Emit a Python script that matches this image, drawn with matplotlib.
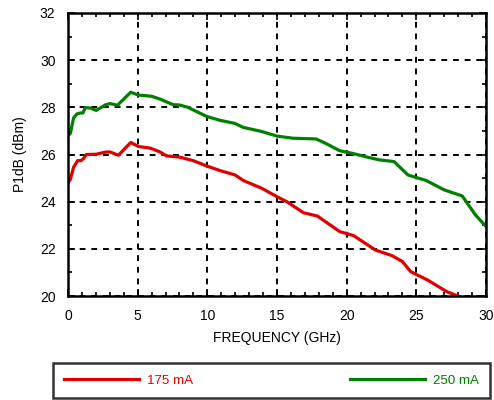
import matplotlib
matplotlib.use("Agg")
import matplotlib.pyplot as plt
from matplotlib.ticker import MultipleLocator

plt.rcParams['font.family'] = ['Liberation Sans', 'DejaVu Sans']

# P1dB vs frequency
freq_175 = [0.0, 0.17, 0.4, 0.69, 0.93, 1.12, 1.31, 2.02, 2.67, 3.0, 3.62, 4.5, 5.05,
            5.9, 6.6, 7.07, 8.0, 8.98, 9.93, 10.9, 12.0, 12.6, 13.9, 15.0, 15.7,
            16.9, 17.9, 19.5, 20.5, 22.06, 23.26, 24.0, 24.6, 25.8, 27.2, 27.8, 28.4]
p1db_175 = [24.8, 24.95, 25.46, 25.74, 25.74, 25.83, 26.0, 26.01, 26.1, 26.11, 25.97,
            26.51, 26.34, 26.27, 26.11, 25.94, 25.89, 25.74, 25.52, 25.32, 25.13,
            24.89, 24.57, 24.21, 24.0, 23.53, 23.39, 22.73, 22.56, 21.95, 21.71,
            21.46, 21.03, 20.68, 20.18, 20.04, 19.9]

freq_250 = [0.0, 0.17, 0.4, 0.64, 0.88, 1.07, 1.24, 1.6, 2.02, 2.67, 3.0, 3.55, 4.5,
            5.05, 6.0, 6.6, 7.55, 8.0, 8.6, 9.93, 10.9, 11.97, 12.57, 13.87, 15.0,
            16.15, 17.8, 18.5, 19.5, 20.4, 21.4, 22.35, 23.4, 24.4, 25.7, 27.0,
            28.3, 29.25, 30.0]
p1db_250 = [26.8, 26.9, 27.55, 27.72, 27.76, 27.76, 27.99, 27.97, 27.87, 28.1, 28.16,
            28.09, 28.64, 28.52, 28.47, 28.35, 28.11, 28.1, 28.0, 27.62, 27.45,
            27.32, 27.15, 26.98, 26.78, 26.69, 26.66, 26.47, 26.16, 26.05, 25.9,
            25.77, 25.7, 25.13, 24.9, 24.5, 24.24, 23.43, 22.95]

labels = ['175 mA', '250 mA']
colors = ['#e00000', '#008000']

fig = plt.figure(figsize=(4.94, 4.0), dpi=100)
ax = fig.add_axes([0.1377, 0.26, 0.8461, 0.7075])

l1, = ax.plot(freq_175, p1db_175, color=colors[0], lw=2.3, label=labels[0])
l2, = ax.plot(freq_250, p1db_250, color=colors[1], lw=2.3, label=labels[1])

ax.set_xlim(0, 30)
ax.set_ylim(20, 32)
ax.xaxis.set_major_locator(MultipleLocator(5))
ax.xaxis.set_minor_locator(MultipleLocator(1))
ax.yaxis.set_major_locator(MultipleLocator(2))
ax.yaxis.set_minor_locator(MultipleLocator(1))
ax.tick_params(which='both', direction='in', top=True, right=True, width=1.2,
               labelsize=10, color='black')
ax.tick_params(which='major', length=5)
ax.tick_params(which='minor', length=3)
ax.tick_params(axis='x', pad=9)
ax.tick_params(axis='y', pad=9)
ax.grid(True, which='major', color='black', ls=(0, (3, 3)), lw=1.4)
for s in ax.spines.values():
    s.set_linewidth(1.8)

ax.set_xlabel('FREQUENCY (GHz)', fontsize=10, labelpad=6)
ax.set_ylabel('P1dB (dBm)', fontsize=10, labelpad=9)

leg = fig.legend(handles=[l1, l2], loc='lower left', ncol=2, mode='expand',
                 bbox_to_anchor=(0.107, 0.005, 0.885, 0.095), fancybox=False,
                 edgecolor='black', fontsize=9.6, handlelength=5.6,
                 handletextpad=0.6, labelcolor='linecolor', borderaxespad=0,
                 borderpad=0.85)
leg.get_frame().set_linewidth(1.8)

fig.savefig('out.png', dpi=100)
